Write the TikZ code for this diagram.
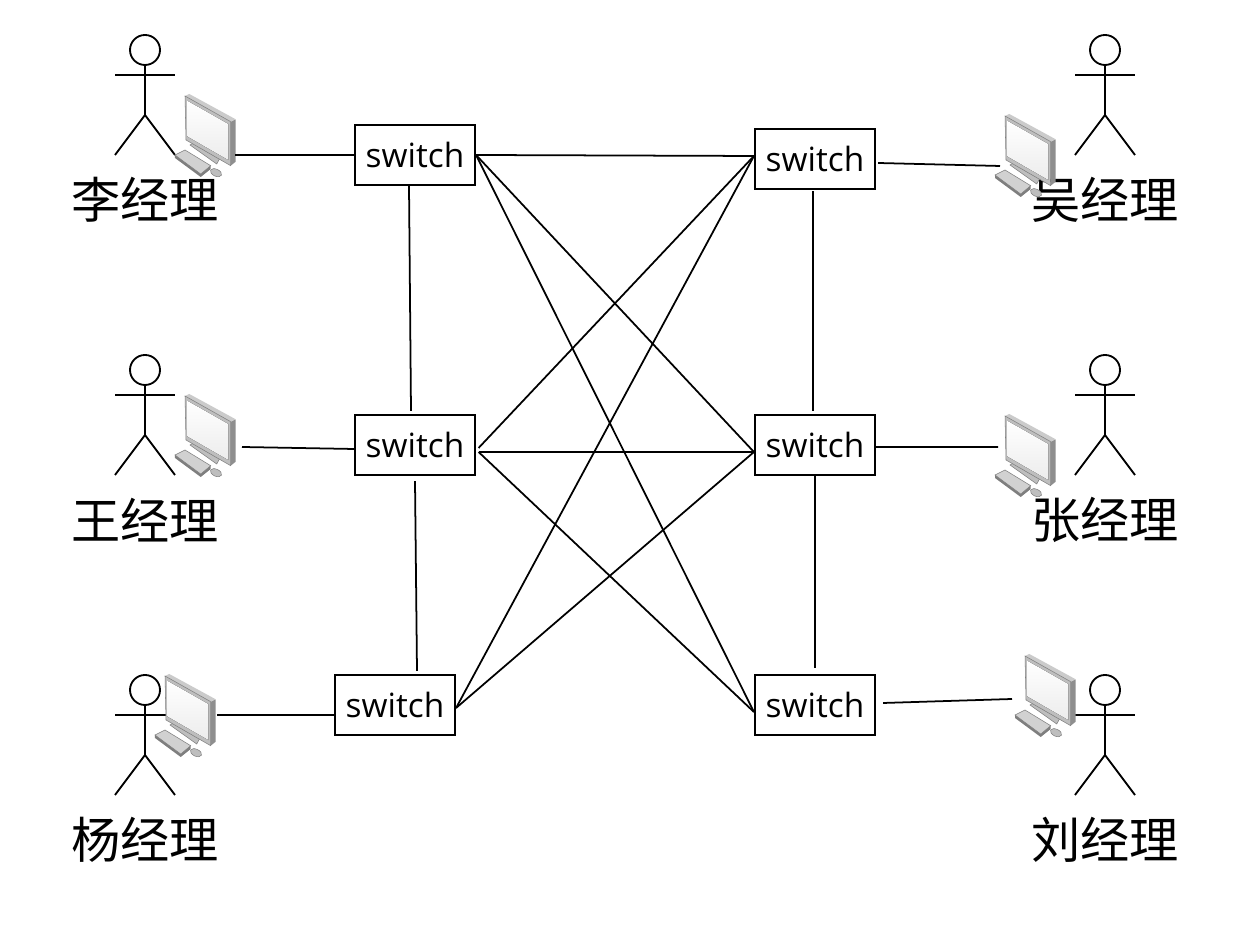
\documentclass[tikz,border=0pt]{standalone}
\usepackage{fontspec}
\setmainfont{Open Sans}
\newfontfamily\cjkfont{Noto Sans CJK SC}
\usetikzlibrary{calc}
\definecolor{bezelgray}{HTML}{BEBEBE}
\definecolor{sidegray}{HTML}{8E8E8E}
\definecolor{edgegray}{HTML}{7E7E7E}
\definecolor{screengray}{HTML}{ECECEC}
\tikzset{
  switchbox/.style={draw, line width=1.2pt, minimum width=2.4cm, minimum height=1.2cm, inner sep=0pt, font=\fontsize{19}{22}\selectfont},
  managerlabel/.style={font=\cjkfont\fontsize{28}{30}\selectfont, inner sep=0pt},
  link/.style={line width=1pt},
  actor/.pic={
    \draw[line width=1.05pt] (0,0) circle (0.3);
    \draw[line width=1.05pt] (0,-0.3) -- (0,-1.3);
    \draw[line width=1.05pt] (-0.6,-0.5) -- (0.6,-0.5);
    \draw[line width=1.05pt] (-0.6,-2.1) -- (0,-1.3) -- (0.6,-2.1);
  },
  computer/.pic={
    \begin{scope}[x=0.02cm,y=-0.02cm]
      % keyboard
      \fill[edgegray] (-10,59) -- (-10,62) -- (15.7,81) -- (25.7,73) -- (25.7,69.7) -- cycle;
      \filldraw[fill=bezelgray!70, draw=edgegray, line width=0.3pt] (-10,59) -- (0,54) -- (25.7,69.7) -- (15.7,78) -- cycle;
      % stand and mouse
      \filldraw[fill=bezelgray, draw=edgegray, line width=0.3pt] (5,49) -- (10,46) -- (35,62) -- (31.7,68) -- cycle;
      \filldraw[fill=bezelgray, draw=edgegray, line width=0.3pt, rotate around={-25:(31,76.7)}] (31,76.7) ellipse (6 and 3.5);
      % monitor
      \fill[sidegray] (45.7,25.7) -- (50.7,23.3) -- (50.7,65.7) -- (45.7,69.7) -- cycle;
      \fill[bezelgray!80] (0,0) -- (4.3,-2) -- (50.7,23.3) -- (45.7,25.7) -- cycle;
      \filldraw[fill=bezelgray, draw=edgegray, line width=0.3pt] (0,0) -- (45.7,25.7) -- (45.7,69.7) -- (1,44) -- cycle;
      \fill[top color=white, bottom color=screengray] (2.7,5) -- (43.3,28) -- (43.3,64) -- (2.7,40.7) -- cycle;
    \end{scope}
  }
}
\begin{document}
\begin{tikzpicture}
\useasboundingbox (0,0) rectangle (25.08,18.6);
\pic at (2.9,17.6) {actor};
\pic at (2.9,11.2) {actor};
\pic at (2.9,4.8) {actor};
\pic at (22.1,17.6) {actor};
\pic at (22.1,11.2) {actor};
\pic at (22.1,4.8) {actor};
\node[managerlabel] (liLabel) at (2.9,14.6) {李经理};
\node[managerlabel] (wangLabel) at (2.9,8.2) {王经理};
\node[managerlabel] (yangLabel) at (2.9,1.8) {杨经理};
\node[managerlabel] (wuLabel) at (22.1,14.6) {吴经理};
\node[managerlabel] (zhangLabel) at (22.1,8.2) {张经理};
\node[managerlabel] (liuLabel) at (22.1,1.8) {刘经理};
\pic at (3.7,16.68) {computer};
\pic at (3.7,10.68) {computer};
\pic at (3.3,5.08) {computer};
\pic at (20.1,16.28) {computer};
\pic at (20.1,10.28) {computer};
\pic at (20.5,5.48) {computer};
\node[switchbox] (liSw) at (8.3,15.5) {switch};
\node[switchbox] (wangSw) at (8.3,9.7) {switch};
\node[switchbox] (yangSw) at (7.9,4.5) {switch};
\node[switchbox] (wuSw) at (16.3,15.42) {switch};
\node[switchbox] (zhangSw) at (16.3,9.7) {switch};
\node[switchbox] (liuSw) at (16.3,4.5) {switch};
% free ends at the computers
\coordinate (liPc) at (4.7,15.5);
\coordinate (wangPc) at (4.84,9.66);
\coordinate (yangPc) at (4.34,4.3);
\coordinate (wuPc) at (20.0,15.28);
\coordinate (zhangPc) at (19.96,9.66);
\coordinate (liuPc) at (20.24,4.62);
\draw[link] (liPc) -- (liSw.west);
\draw[link] (wangPc) -- ([yshift=-0.08cm]wangSw.west);
\draw[link] (yangPc) -- ([yshift=-0.2cm]yangSw.west);
\draw[link] ([xshift=0.04cm,yshift=-0.08cm]wuSw.east) -- (wuPc);
\draw[link] ([yshift=-0.04cm]zhangSw.east) -- (zhangPc);
\draw[link] ([xshift=0.14cm,yshift=0.04cm]liuSw.east) -- (liuPc);
% ports between switches
\coordinate (liOut) at (liSw.east);
\coordinate (wangOut) at ([xshift=0.05cm,yshift=-0.14cm]wangSw.east);
\coordinate (wangUp) at ([xshift=0.05cm,yshift=-0.06cm]wangSw.east);
\coordinate (yangOut) at ([yshift=-0.06cm]yangSw.east);
\coordinate (wuIn) at ([yshift=0.06cm]wuSw.west);
\coordinate (zhangIn) at ([yshift=-0.14cm]zhangSw.west);
\coordinate (liuIn) at ([yshift=-0.14cm]liuSw.west);
\draw[link] (liOut) -- (wuIn);
\draw[link] (liOut) -- (zhangIn);
\draw[link] (liOut) -- (liuIn);
\draw[link] (wangUp) -- (wuIn);
\draw[link] (wangOut) -- (zhangIn);
\draw[link] (wangOut) -- (liuIn);
\draw[link] (yangOut) -- (wuIn);
\draw[link] (yangOut) -- (zhangIn);
\draw[link] ([xshift=-0.12cm]liSw.south) -- ([xshift=-0.08cm,yshift=0.06cm]wangSw.north);
\draw[link] ([yshift=-0.1cm]wangSw.south) -- ([xshift=0.44cm,yshift=0.06cm]yangSw.north);
\draw[link] ([xshift=-0.04cm,yshift=-0.02cm]wuSw.south) -- ([xshift=-0.04cm,yshift=0.06cm]zhangSw.north);
\draw[link] (zhangSw.south) -- ([yshift=0.12cm]liuSw.north);
\end{tikzpicture}
\end{document}
